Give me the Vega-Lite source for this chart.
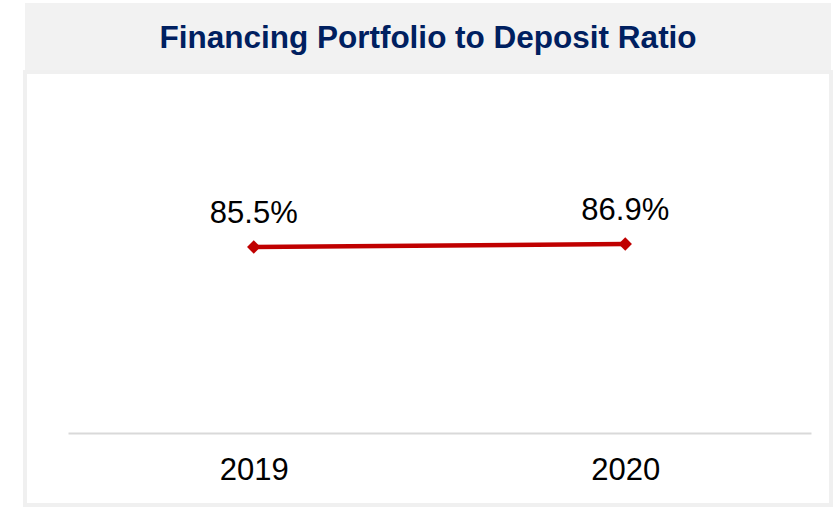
{
  "$schema": "https://vega.github.io/schema/vega-lite/v6.json",
  "background": "white",
  "padding": {"left": 23, "top": 3, "right": 4, "bottom": 4},
  "spacing": 0,
  "datasets": {
    "titleRow": [{"title": "Financing Portfolio to Deposit Ratio"}],
    "ratio": [
      {"year": "2019", "ratio": 0.855},
      {"year": "2020", "ratio": 0.869}
    ]
  },
  "vconcat": [
    {
      "width": 806,
      "height": 67,
      "view": {"fill": "#f2f2f2", "stroke": null},
      "data": {"name": "titleRow"},
      "mark": {
        "type": "text",
        "font": "Liberation Sans",
        "fontWeight": "bold",
        "fontSize": 31.5,
        "color": "#002060",
        "baseline": "middle",
        "align": "center",
        "dy": 2
      },
      "encoding": {"text": {"field": "title", "type": "nominal"}}
    },
    {
      "width": 806,
      "height": 433,
      "view": {"fill": "white", "stroke": "#f0f0f0", "strokeWidth": 4},
      "data": {"name": "ratio"},
      "encoding": {
        "x": {
          "field": "year",
          "type": "ordinal",
          "scale": {"type": "point", "range": [43, 786], "padding": 0.5},
          "axis": {
            "title": null,
            "labelAngle": 0,
            "labelFont": "Liberation Sans",
            "labelFontSize": 31,
            "labelColor": "#000000",
            "labelPadding": 22,
            "labelBaseline": "top",
            "ticks": false,
            "tickSize": 0,
            "grid": false,
            "domainColor": "#d9d9d9",
            "domainWidth": 2,
            "offset": -72
          }
        },
        "y": {
          "field": "ratio",
          "type": "quantitative",
          "scale": {"domain": [0, 1], "range": [361, 143.5], "nice": false, "zero": false},
          "axis": null
        }
      },
      "layer": [
        {
          "mark": {"type": "line", "color": "#c00000", "strokeWidth": 4.5}
        },
        {
          "mark": {"type": "point", "shape": "diamond", "filled": true, "color": "#c00000", "size": 180, "opacity": 1}
        },
        {
          "mark": {
            "type": "text",
            "font": "Liberation Sans",
            "fontSize": 31,
            "color": "#000000",
            "baseline": "alphabetic",
            "align": "center",
            "dy": -24
          },
          "encoding": {"text": {"field": "ratio", "type": "quantitative", "format": ".1%"}}
        }
      ]
    }
  ]
}
